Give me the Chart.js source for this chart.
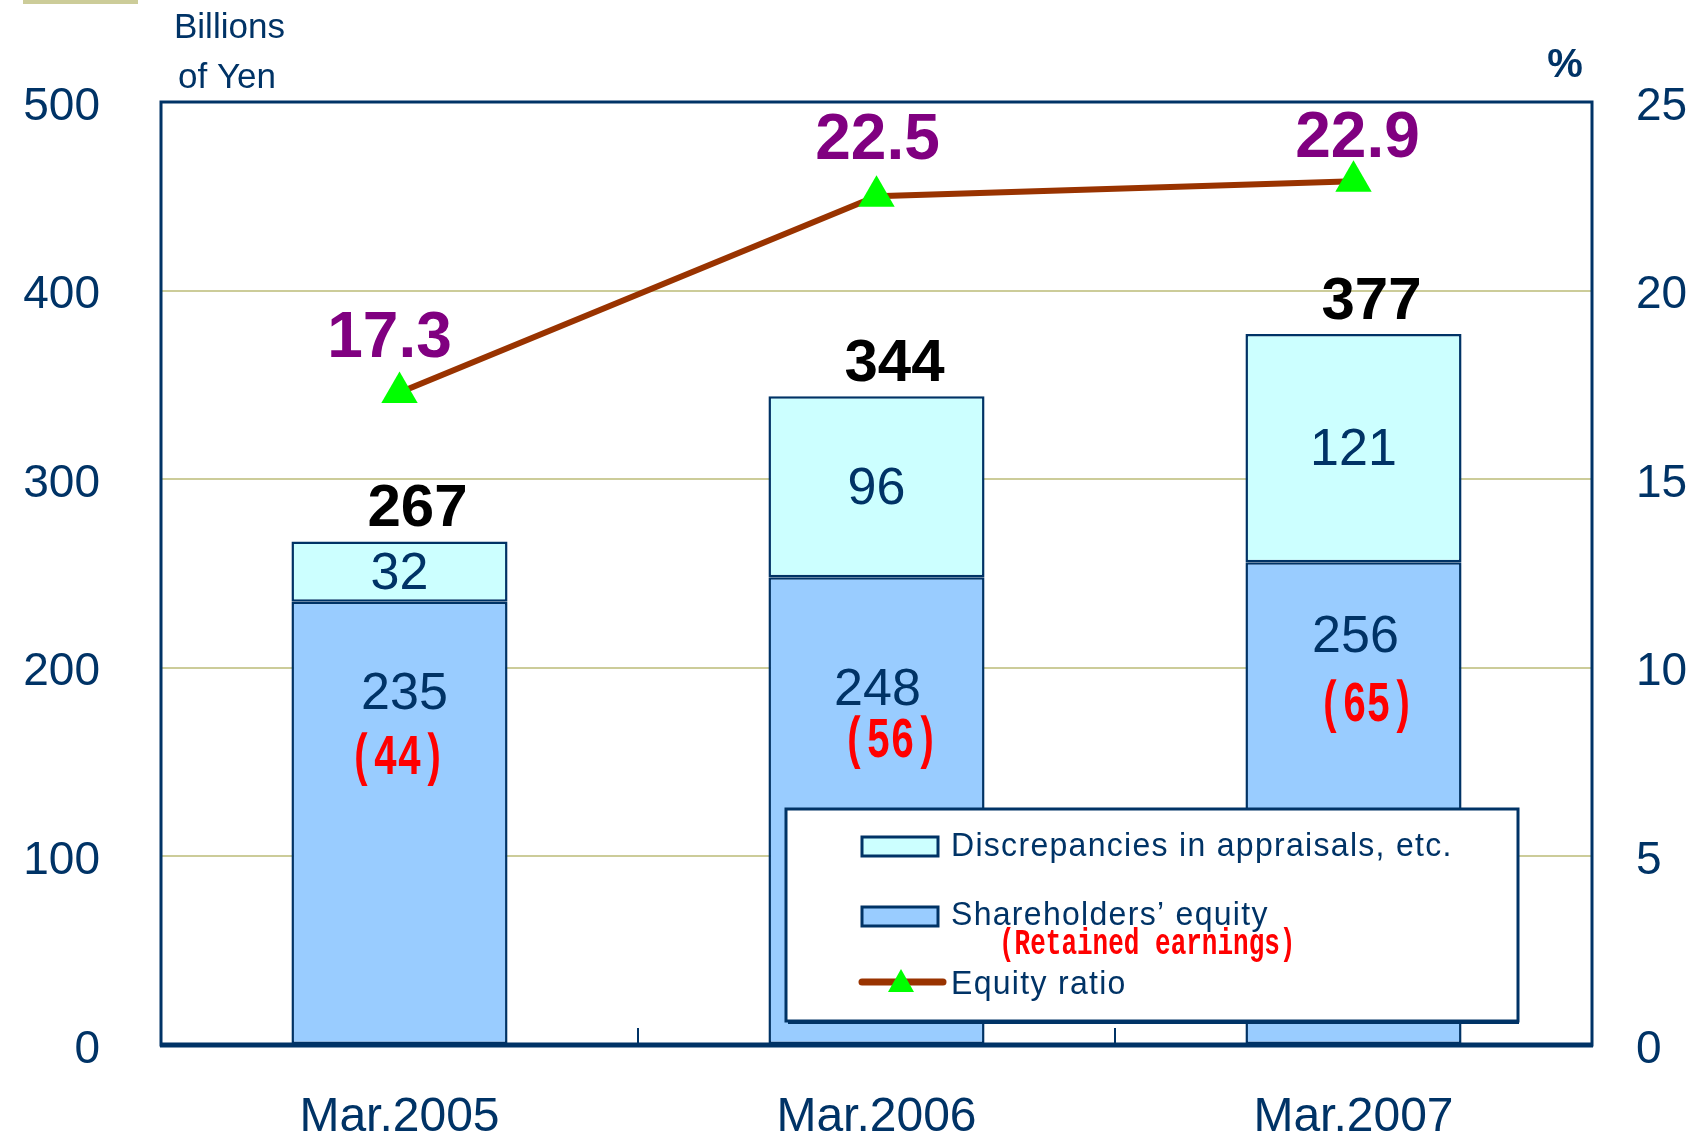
<!DOCTYPE html>
<html>
<head>
<meta charset="utf-8">
<script src="https://cdn.jsdelivr.net/npm/chart.js@4.4.0/dist/chart.umd.min.js"></script>
<style>
  html, body { margin: 0; padding: 0; background: #fff; }
</style>
</head>
<body>
<canvas id="equity-chart" width="1702" height="1141"></canvas>
<script>
// data
var categories = ['Mar.2005', 'Mar.2006', 'Mar.2007'];
var equity = [235, 248, 256];
var discrepancies = [32, 96, 121];
var totals = [267, 344, 377];
var retained = [44, 56, 65];
var equityRatio = [17.3, 22.5, 22.9];
var yenTicks = [0, 100, 200, 300, 400, 500];
var pctTicks = [0, 5, 10, 15, 20, 25];

var NAVY = '#003366';
var GRID = '#cccc99';
var SANS = '"Liberation Sans", Arial, sans-serif';
var MONO = '"Liberation Mono", monospace';

function drawText(ctx, txt, x, y, font, color, align, sy, spacing) {
  ctx.save();
  ctx.font = font;
  ctx.fillStyle = color;
  ctx.textAlign = align || 'center';
  ctx.textBaseline = 'middle';
  if (spacing) ctx.letterSpacing = spacing;
  ctx.translate(x, y);
  ctx.scale(1, sy || 1);
  ctx.fillText(txt, 0, 0);
  ctx.restore();
}

// label offsets from the bar/point they belong to (pixels)
var equityLabelPos = [{dx: 5, dy: 93}, {dx: 1, dy: 113}, {dx: 2, dy: 75}];
var retainedLabelPos = [{dx: -2, dy: 158}, {dx: 14, dy: 165}, {dx: 13, dy: 144}];
var ratioLabelPos = [{dx: -10, dy: -53}, {dx: 1, dy: -55}, {dx: 4, dy: -42}];

var decorations = {
  id: 'decorations',
  afterDraw: function(chart) {
    var ctx = chart.ctx, a = chart.chartArea;
    var x = chart.scales.x;

    // small olive bar top left
    ctx.fillStyle = GRID;
    ctx.fillRect(23, 0, 115, 4);

    // frame
    ctx.save();
    ctx.strokeStyle = NAVY;
    ctx.lineWidth = 3;
    ctx.strokeRect(a.left, a.top, a.right - a.left, a.bottom - a.top);
    ctx.lineWidth = 5;
    ctx.beginPath();
    ctx.moveTo(a.left - 1, a.bottom);
    ctx.lineTo(a.right + 1, a.bottom);
    ctx.stroke();
    // inner tick marks between categories
    ctx.lineWidth = 2;
    for (var i = 0; i < categories.length - 1; i++) {
      var bx = (x.getPixelForTick(i) + x.getPixelForTick(i + 1)) / 2;
      ctx.beginPath();
      ctx.moveTo(bx, a.bottom);
      ctx.lineTo(bx, a.bottom - 17);
      ctx.stroke();
    }
    ctx.restore();

    // axis units
    drawText(ctx, 'Billions', 174, 28, '35px ' + SANS, NAVY, 'left');
    drawText(ctx, 'of Yen', 178, 78, '35px ' + SANS, NAVY, 'left');
    drawText(ctx, '%', 1565, 66, 'bold 40px ' + SANS, NAVY);

    // value labels
    var eqMeta = chart.getDatasetMeta(0);
    var topMeta = chart.getDatasetMeta(1);
    var lineMeta = chart.getDatasetMeta(2);
    for (var j = 0; j < categories.length; j++) {
      var top = topMeta.data[j], eq = eqMeta.data[j], pt = lineMeta.data[j];
      drawText(ctx, String(totals[j]), top.x + 18, top.y - 32, 'bold 60px ' + SANS, '#000');
      drawText(ctx, String(discrepancies[j]), top.x, (top.y + top.base) / 2 + 3, '52px ' + SANS, NAVY);
      drawText(ctx, String(equity[j]), eq.x + equityLabelPos[j].dx, eq.y + equityLabelPos[j].dy, '52px ' + SANS, NAVY);
      drawText(ctx, '(' + retained[j] + ')', eq.x + retainedLabelPos[j].dx, eq.y + retainedLabelPos[j].dy, 'bold 40px ' + MONO, '#ff0000', 'center', 1.45);
      drawText(ctx, equityRatio[j].toFixed(1), pt.x + ratioLabelPos[j].dx, pt.y + ratioLabelPos[j].dy, 'bold 64px ' + SANS, '#800080');
    }

    // legend box
    ctx.save();
    ctx.fillStyle = '#fff';
    ctx.fillRect(786, 809, 732, 212);
    ctx.strokeStyle = NAVY;
    ctx.lineWidth = 3;
    ctx.strokeRect(786, 809, 732, 212);
    ctx.lineWidth = 2;
    ctx.beginPath();
    ctx.moveTo(788, 1023);
    ctx.lineTo(1519, 1023);
    ctx.stroke();

    ctx.lineWidth = 3;
    ctx.fillStyle = '#ccffff';
    ctx.fillRect(862, 837, 76, 19);
    ctx.strokeRect(862, 837, 76, 19);
    ctx.fillStyle = '#99ccff';
    ctx.fillRect(862, 907, 76, 19);
    ctx.strokeRect(862, 907, 76, 19);

    ctx.strokeStyle = '#993300';
    ctx.lineWidth = 7;
    ctx.lineCap = 'round';
    ctx.beginPath();
    ctx.moveTo(862, 982);
    ctx.lineTo(943, 982);
    ctx.stroke();
    ctx.fillStyle = '#00ff00';
    ctx.beginPath();
    ctx.moveTo(901, 969);
    ctx.lineTo(914, 992);
    ctx.lineTo(888, 992);
    ctx.closePath();
    ctx.fill();
    ctx.restore();

    drawText(ctx, 'Discrepancies in appraisals, etc.', 951, 847, '32px ' + SANS, NAVY, 'left', 1.05, '1.3px');
    drawText(ctx, 'Shareholders\u2019 equity', 951, 916, '32px ' + SANS, NAVY, 'left', 1.05, '1.3px');
    drawText(ctx, '(Retained earnings)', 999, 945, 'bold 26px ' + MONO, '#ff0000', 'left', 1.4);
    drawText(ctx, 'Equity ratio', 951, 985, '32px ' + SANS, NAVY, 'left', 1.05, '1.3px');
  }
};

const ctx = document.getElementById('equity-chart').getContext('2d');
const chart = new Chart(ctx, {
  type: 'bar',
  data: {
    labels: categories,
    datasets: [
      {
        label: 'Shareholders\u2019 equity',
        data: equity,
        backgroundColor: '#99ccff',
        borderColor: NAVY,
        borderWidth: 2.5,
        borderSkipped: false,
        categoryPercentage: 1,
        barPercentage: 0.453,
        yAxisID: 'y',
        order: 1
      },
      {
        label: 'Discrepancies in appraisals, etc.',
        data: discrepancies,
        backgroundColor: '#ccffff',
        borderColor: NAVY,
        borderWidth: 2.5,
        borderSkipped: false,
        categoryPercentage: 1,
        barPercentage: 0.453,
        yAxisID: 'y',
        order: 1
      },
      {
        type: 'line',
        label: 'Equity ratio',
        data: equityRatio,
        borderColor: '#993300',
        borderWidth: 6,
        pointStyle: 'triangle',
        pointRadius: 21,
        pointBackgroundColor: '#00ff00',
        pointBorderWidth: 0,
        tension: 0,
        yAxisID: 'y1',
        order: 0
      }
    ]
  },
  options: {
    responsive: false,
    animation: false,
    layout: { padding: { top: 102, left: 0, right: 0, bottom: 0 } },
    plugins: {
      legend: { display: false },
      tooltip: { enabled: false }
    },
    scales: {
      x: {
        stacked: true,
        grid: { display: false, drawTicks: false },
        border: { display: false },
        ticks: { color: NAVY, font: { family: SANS, size: 48 }, padding: 44 },
        afterFit: function(s) { s.height = 96; }
      },
      y: {
        stacked: true,
        min: 0,
        max: 500,
        afterBuildTicks: function(s) { s.ticks = yenTicks.map(function(v) { return {value: v}; }); },
        grid: {
          color: function(c) { return (c.tick.value === 0 || c.tick.value === 500) ? 'rgba(0,0,0,0)' : GRID; },
          lineWidth: 2,
          drawTicks: false
        },
        border: { display: false },
        ticks: { color: NAVY, font: { family: SANS, size: 46 }, padding: 61, labelOffset: 5 },
        afterFit: function(s) { s.width = 161; }
      },
      y1: {
        position: 'right',
        min: 0,
        max: 25,
        afterBuildTicks: function(s) { s.ticks = pctTicks.map(function(v) { return {value: v}; }); },
        grid: { display: false, drawTicks: false },
        border: { display: false },
        ticks: { color: NAVY, font: { family: SANS, size: 46 }, padding: 44, labelOffset: 5 },
        afterFit: function(s) { s.width = 110; }
      }
    }
  },
  plugins: [decorations]
});
</script>
</body>
</html>
